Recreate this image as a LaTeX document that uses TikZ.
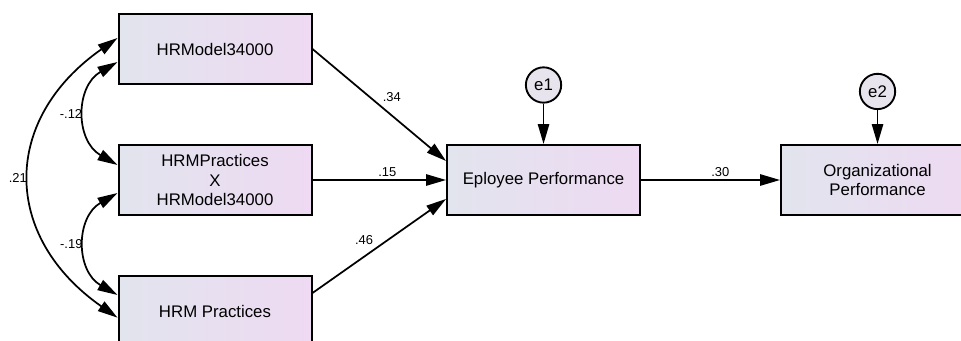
\documentclass[tikz,border=0pt]{standalone}
\usepackage{fontspec}
\setmainfont{Liberation Sans}
\usetikzlibrary{arrows.meta,positioning}
\definecolor{boxleft}{RGB}{226,228,238}
\definecolor{boxright}{RGB}{238,218,242}
\definecolor{errfill}{RGB}{232,228,238}

\begin{document}
\begin{tikzpicture}[x=0.75pt,y=0.75pt,on grid,node distance=98.25pt,
		line width=1.3pt,>={Triangle[length=15pt,width=8.5pt]},
		observed/.style={rectangle, draw, line width=1.5pt, minimum width=144.75pt, minimum height=52.5pt, left color=boxleft, right color=boxright, align=center, font=\fontsize{12.6}{14.6}\selectfont},
		resid/.style={circle, draw, line width=1.4pt, fill=errfill, minimum size=26.5pt, inner sep=0pt, font=\fontsize{12.6}{14.6}\selectfont},
		coef/.style={font=\fontsize{9.7}{11}\selectfont, inner sep=2pt}
	]
	\useasboundingbox (0,0) rectangle (961,340);
	\clip (0,0) rectangle (961,340);
	
	\node[observed] (x_1) at (215,291) {HRModel34000};
	\node[observed] (x_2) [below=of x_1] {HRMPractices\\X\\HRModel34000};
	\node[observed] (x_3) [below=of x_2] {HRM Practices};
	
	\node[observed] (y_1) [right=246.4pt of x_2] {Eployee Performance};
	\node[observed] (y_2) [right=250.5pt of y_1] {Organizational\\Performance};
	
	\node[resid] (e_1) [above=71.25pt of y_1] {e1};
	\node[resid] (e_2) [above=66.4pt of y_2] {e2};
	
	\draw[->] (x_1.east) -- ([yshift=14.25pt]y_1.west) node[coef, pos=0.5, above right] {.34};
	\draw[->] (x_2.east) -- (y_1.west) node[coef, pos=0.56, above] {.15};
	\draw[->] ([yshift=13.5pt]x_3.east) -- ([yshift=-14.25pt]y_1.west) node[coef, pos=0.48, above left] {.46};
	\draw[->] (y_1.east) -- (y_2.west) node[coef, pos=0.57, above] {.30};
	
	\draw[->] (e_1) -- (y_1);
	\draw[->] (e_2) -- (y_2);
	
	\draw[<->] ([yshift=-9.75pt]x_1.west) to[out=210,in=150,looseness=1.22] node[coef,left] {-.12} ([yshift=11.25pt]x_2.west);
	\draw[<->] ([yshift=-9.75pt]x_2.west) to[out=210,in=150,looseness=1.22] node[coef,left] {-.19} ([yshift=12pt]x_3.west);
	\draw[<->] ([yshift=8.25pt]x_1.west) to[out=215,in=145,looseness=1.3] node[coef,left] {.21} ([yshift=-5pt]x_3.west);
\end{tikzpicture}
\end{document}
